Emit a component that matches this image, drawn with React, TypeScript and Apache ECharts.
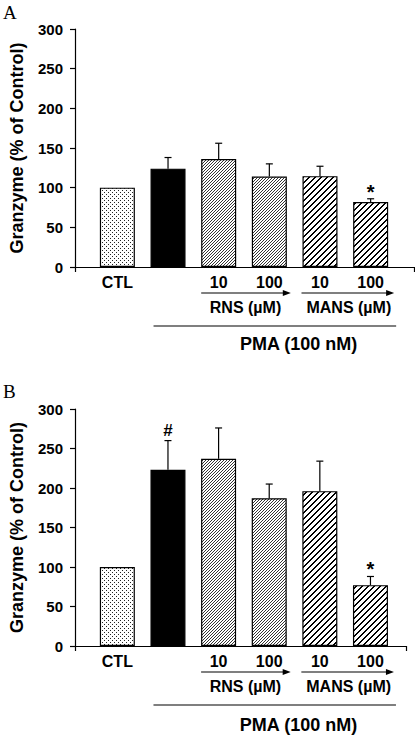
import React, { useEffect, useRef } from "react";
import * as echarts from "echarts";

// ---- data ----
const categories = ["CTL", "PMA", "PMA + RNS 10", "PMA + RNS 100", "PMA + MANS 10", "PMA + MANS 100"];
const tickLabels = ["CTL", "", "10", "100", "10", "100"];
const yTicks = [0, 50, 100, 150, 200, 250, 300];
const valuesA = [100, 124, 136, 114, 114.5, 82];
const errorsA = [0, 14, 20, 16, 12.5, 4];
const marksA = ["", "", "", "", "", "*"];
const valuesB = [100, 223, 237, 187, 196, 77];
const errorsB = [0, 37, 39, 18, 38, 11];
const marksB = ["", "#", "", "", "", "*"];
const fills = ["dots", "solid", "fine", "fine", "coarse", "coarse"];
const groupLabels = ["RNS (\u00b5M)", "MANS (\u00b5M)"];
const pmaLabel = "PMA (100 nM)";
const yTitle = "Granzyme (% of Control)";
const panelLetters = ["A", "B"];

const FONT = "'Liberation Sans', Arial, Helvetica, sans-serif";
const X_MIN = 0.1635;
const SPAN_PER_PX = 6.6923 / 348;

const panels = [
  { values: valuesA, errors: errorsA, marks: marksA, top: 29, height: 238, width: 348 },
  { values: valuesB, errors: errorsB, marks: marksB, top: 409, height: 237, width: 340 },
];

function makePattern(kind: string): any {
  if (kind === "solid") return "#000";
  const size = kind === "coarse" ? 6 : kind === "dots" ? 4 : 3;
  const c = document.createElement("canvas");
  c.width = size;
  c.height = size;
  const ctx = c.getContext("2d")!;
  ctx.fillStyle = "#fff";
  ctx.fillRect(0, 0, size, size);
  if (kind === "dots") {
    ctx.fillStyle = "#222";
    ctx.fillRect(0, 0, 1, 1);
    ctx.fillRect(2, 2, 1, 1);
  } else if (kind === "fine") {
    ctx.fillStyle = "#333";
    for (let y = 0; y < size; y++) ctx.fillRect(size - 1 - y, y, 1, 1);
  } else {
    ctx.fillStyle = "#000";
    for (let y = 0; y < size; y++) {
      ctx.fillRect((size - 1 - y + size) % size, y, 1, 1);
      ctx.fillRect((size - y) % size, y, 1, 1);
    }
  }
  return { image: c.toDataURL(), repeat: "repeat", imageWidth: size, imageHeight: size };
}

export default function App() {
  const ref = useRef<HTMLDivElement>(null);
  useEffect(() => {
    if (!ref.current) return;
    const chart = echarts.init(ref.current, null, { renderer: "svg" });
    const patterns = fills.map(makePattern);

    const grids = panels.map((p) => ({ left: 66, top: p.top, width: p.width, height: p.height }));
    const xAxes = panels.map((p, i) => {
      const max = X_MIN + p.width * SPAN_PER_PX;
      return {
        type: "value",
        gridIndex: i,
        min: X_MIN,
        max,
        splitLine: { show: false },
        axisLine: { show: true, lineStyle: { color: "#000", width: 1.2 } },
        axisTick: { show: true, inside: false, length: 5, customValues: [X_MIN, max], lineStyle: { color: "#000", width: 1.2 } },
        axisLabel: {
          show: true,
          customValues: [1, 3, 4, 5, 6],
          formatter: (v: number) => tickLabels[Math.round(v) - 1] || "",
          margin: 7,
          color: "#000",
          fontFamily: FONT,
          fontWeight: "bold",
          fontSize: 16,
        },
      };
    });
    const yAxes = panels.map((p, i) => ({
      type: "value",
      gridIndex: i,
      min: yTicks[0],
      max: yTicks[yTicks.length - 1],
      interval: yTicks[1] - yTicks[0],
      name: yTitle,
      nameLocation: "middle",
      nameGap: 49,
      nameTextStyle: { color: "#000", fontFamily: FONT, fontWeight: "bold", fontSize: 18 },
      splitLine: { show: false },
      axisLine: { show: true, lineStyle: { color: "#000", width: 1.2 } },
      axisTick: { show: true, inside: false, length: 5, lineStyle: { color: "#000", width: 1.2 } },
      axisLabel: { color: "#000", fontFamily: FONT, fontWeight: "bold", fontSize: 15, margin: 12 },
    }));

    const series: any[] = [];
    panels.forEach((p, i) => {
      series.push({
        type: "bar",
        name: "bars" + i,
        xAxisIndex: i,
        yAxisIndex: i,
        barWidth: 35,
        data: p.values.map((v, k) => ({
          name: categories[k],
          value: [k + 1, v],
          itemStyle: { color: patterns[k], borderColor: "#000", borderWidth: 1.2 },
        })),
      });
      series.push({
        type: "custom",
        name: "err" + i,
        xAxisIndex: i,
        yAxisIndex: i,
        z: 5,
        encode: { x: 0, y: 1 },
        data: p.values.map((v, k) => [k + 1, v, p.errors[k]]),
        renderItem: (params: any, api: any) => {
          const x = api.value(0);
          const y = api.value(1);
          const e = api.value(2);
          const children: any[] = [];
          const p0 = api.coord([x, y]);
          const p1 = api.coord([x, y + e]);
          if (e > 0) {
            children.push({
              type: "line",
              shape: { x1: p0[0], y1: p0[1], x2: p1[0], y2: p1[1] },
              style: { stroke: "#000", lineWidth: 1.2 },
            });
            children.push({
              type: "line",
              shape: { x1: p1[0] - 3.5, y1: p1[1], x2: p1[0] + 3.5, y2: p1[1] },
              style: { stroke: "#000", lineWidth: 1.2 },
            });
          }
          return { type: "group", children };
        },
      });
    });

    chart.setOption({
      animation: false,
      backgroundColor: "#fff",
      grid: grids,
      xAxis: xAxes,
      yAxis: yAxes,
      series,
    });

    // annotations positioned through the axes' scales
    const graphic: any[] = [];
    panelLetters.forEach((letter, i) => {
      graphic.push({
        type: "text",
        left: 3,
        top: i === 0 ? 3 : 382,
        style: { text: letter, fill: "#000", font: "19px 'Liberation Serif', 'Times New Roman', serif" },
      });
    });
    panels.forEach((p, i) => {
      const toPx = (x: number, y: number) => chart.convertToPixel({ gridIndex: i } as any, [x, y]);
      const px = (x: number) => toPx(x, 0)[0];
      const ay = toPx(1, 0)[1];
      const half = 17.5;

      // significance marks above error bars
      p.marks.forEach((m, k) => {
        if (!m) return;
        const top = toPx(k + 1, p.values[k] + p.errors[k]);
        graphic.push({
          type: "text",
          x: top[0],
          y: top[1] - (m === "#" ? 10.5 : 7),
          style: {
            text: m,
            fill: "#000",
            font: `bold ${m === "#" ? 17 : 20}px ${FONT}`,
            align: "center",
            verticalAlign: "middle",
            textAlign: "center",
            textVerticalAlign: "middle",
          },
        });
      });

      const arrows = [
        { x1: px(3) - half, x2: px(4) + half + 4, label: groupLabels[0], cx: (px(3) + px(4)) / 2 + 1.5 },
        { x1: px(5) - half - 1, x2: px(6) + half + 6, label: groupLabels[1], cx: (px(5) + px(6)) / 2 + 3.5 },
      ];
      const yArrow = ay + 26;
      arrows.forEach((a) => {
        graphic.push({
          type: "line",
          shape: { x1: a.x1, y1: yArrow, x2: a.x2 - 4, y2: yArrow },
          style: { stroke: "#000", lineWidth: 1.2 },
        });
        graphic.push({
          type: "polygon",
          shape: { points: [[a.x2, yArrow], [a.x2 - 8, yArrow - 3], [a.x2 - 8, yArrow + 3]] },
          style: { fill: "#000" },
        });
        graphic.push({
          type: "text",
          x: a.cx,
          y: ay + 40,
          style: {
            text: a.label,
            fill: "#000",
            font: `bold 16px ${FONT}`,
            align: "center",
            verticalAlign: "middle",
            textAlign: "center",
            textVerticalAlign: "middle",
          },
        });
      });
      const yPma = ay + 59;
      graphic.push({
        type: "line",
        shape: { x1: px(2) - half + 3, y1: yPma, x2: px(6) + half + 8, y2: yPma },
        style: { stroke: "#000", lineWidth: 1.2 },
      });
      graphic.push({
        type: "text",
        x: (px(4) + px(5)) / 2 + 4,
        y: ay + (i === 0 ? 77 : 79),
        style: {
          text: pmaLabel,
          fill: "#000",
          font: `bold 18px ${FONT}`,
          align: "center",
          verticalAlign: "middle",
          textAlign: "center",
          textVerticalAlign: "middle",
        },
      });
    });
    chart.setOption({ graphic });

    return () => chart.dispose();
  }, []);

  return <div ref={ref} style={{ position: "absolute", left: 0, top: 0, width: 415, height: 735 }} />;
}
